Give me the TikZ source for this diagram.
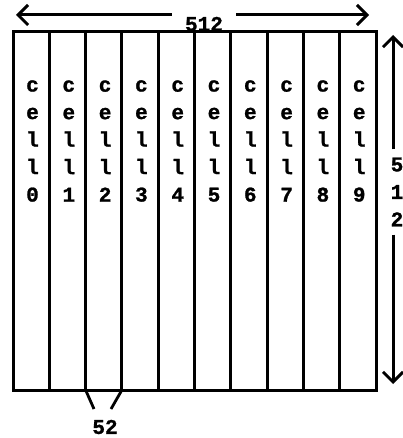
\documentclass[tikz,border=0pt]{standalone}
\usepackage{fontspec}
\newfontfamily\cf{Liberation Mono Bold}[FakeBold=1.2]
\usetikzlibrary{arrows.meta}
\begin{document}
\begin{tikzpicture}[x=1pt,y=-1pt,
  cellbox/.style={draw,line width=3pt,minimum width=36.3pt,minimum height=358pt,inner sep=0pt,outer sep=0pt},
  celltext/.style={align=center,inner sep=0pt,font=\cf\fontsize{21}{27.5}\selectfont},
  lbl/.style={inner sep=0pt,font=\cf\fontsize{21}{27.5}\selectfont},
  dimarrow/.style={line width=3pt,-{Straight Barb[length=10pt,width=20pt,line width=3pt]}},
  leader/.style={line width=2.8pt}]
\useasboundingbox (0,0) rectangle (402,438);
% cells
\foreach \i in {0,...,9}{
  \node[cellbox] (c\i) at ({13+36.3*\i+18.15},211) {};
  \node[celltext] (t\i) at ({13+36.3*\i+19.5},141) {c\\e\\l\\l\\\i};
}
% horizontal dimension
\coordinate (lt) at (16,15);
\coordinate (rt) at (369,15);
\node[lbl,inner xsep=13pt] (h512) at (204,24) {512};
\draw[dimarrow] (h512.west |- lt) -- (lt);
\draw[dimarrow] (h512.east |- rt) -- (rt);
% vertical dimension
\coordinate (tt) at (393,35);
\coordinate (bt) at (393,384);
\node[celltext,inner ysep=8pt] (v512) at (397,192) {5\\1\\2};
\draw[dimarrow] (tt |- v512.north) -- (tt);
\draw[dimarrow] (bt |- v512.south) -- (bt);
% 52 label
\node[lbl] (n52) at (105,427) {52};
\coordinate (la) at (94,409);
\coordinate (lb) at (111,409);
\draw[leader] (c2.south west) -- (la);
\draw[leader] (c2.south east) -- (lb);
\end{tikzpicture}
\end{document}
